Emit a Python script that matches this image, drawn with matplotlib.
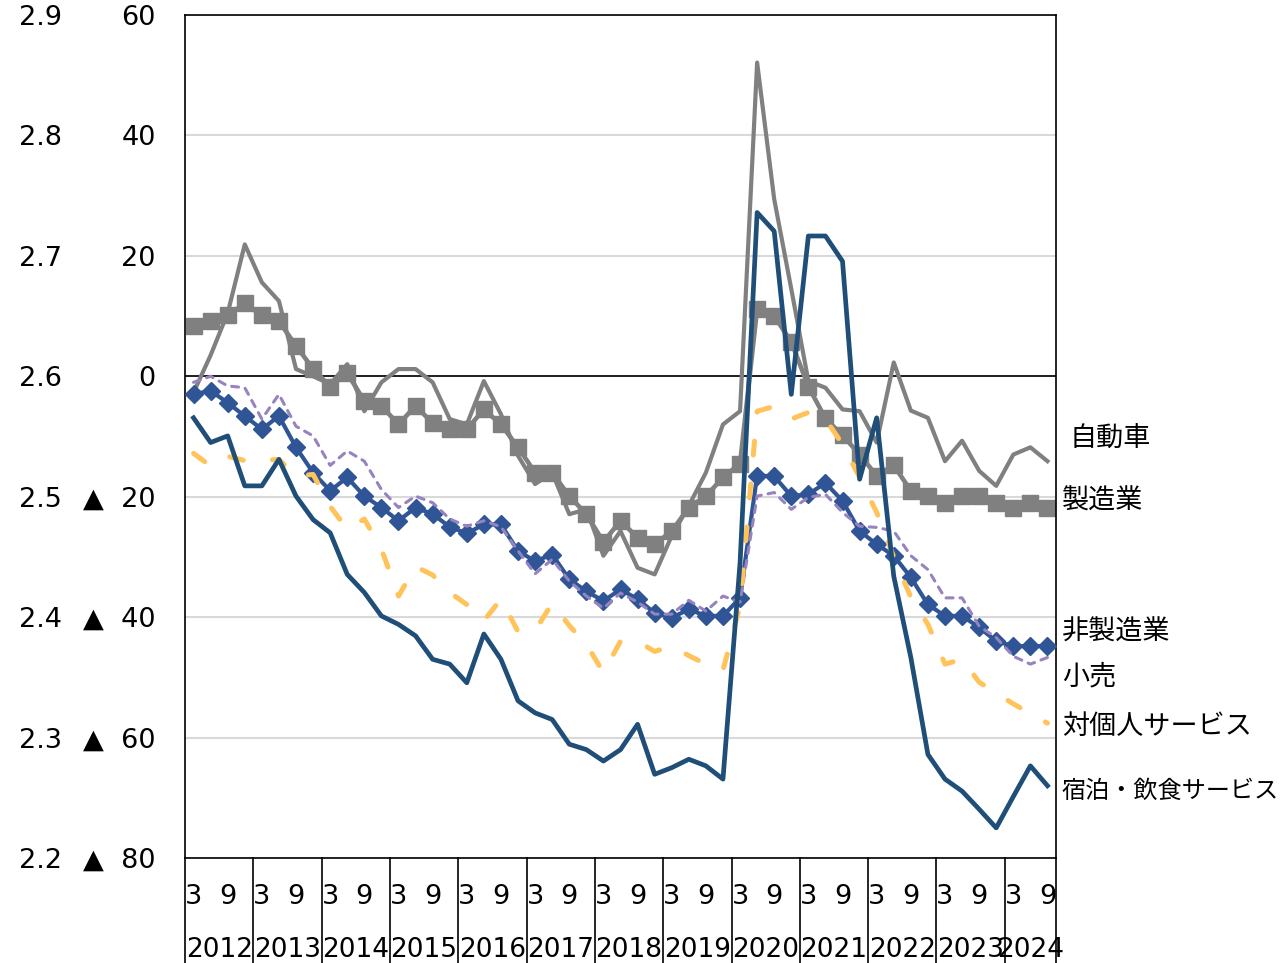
import matplotlib
matplotlib.use('Agg')
import matplotlib.pyplot as plt
import numpy as np
from matplotlib.transforms import blended_transform_factory

plt.rcParams['font.family'] = ['DejaVu Sans', 'Noto Sans CJK JP']
plt.rcParams['lines.scale_dashes'] = False

# ---------------- data ----------------
years = [str(y) for y in range(2012, 2025)]
quarter_labels = (['3', '', '9', ''] * 13)[:51]

manufacturing = [8.3, 9.1, 10.1, 12.1, 10.1, 9.1, 5.1, 1.2, -1.7, 0.5, -4.1, -4.9, -8.0,
                 -4.9, -7.8, -8.8, -8.8, -5.5, -8.0, -11.8, -16.0, -16.0, -19.9, -22.9,
                 -27.5, -24.0, -26.8, -27.9, -25.7, -21.8, -19.9, -16.8, -14.5, 11.2, 10.0,
                 5.7, -1.7, -7.0, -9.8, -13.0, -16.5, -14.8, -19.0, -19.9, -21.0, -19.9,
                 -19.9, -21.0, -21.8, -21.0, -21.8]
automobile = [-2.7, 3.5, 10.5, 21.9, 15.6, 12.5, 1.2, 0.0, -1.3, 2.0, -5.8, -1.0, 1.2,
              1.2, -1.0, -7.1, -8.0, -0.8, -6.3, -13.2, -17.9, -16.0, -22.9, -22.1,
              -29.8, -25.7, -31.8, -32.9, -26.5, -21.5, -16.0, -8.0, -5.8, 52.1, 29.4,
              14.5, -0.8, -1.9, -5.5, -5.8, -11.0, 2.3, -5.7, -6.9, -14.1, -10.7,
              -15.7, -18.2, -13.0, -11.8, -14.1]
non_manufacturing = [-3.0, -2.4, -4.4, -6.6, -8.8, -6.6, -11.8, -16.0, -19.0, -16.8, -19.9,
                     -21.8, -24.0, -21.8, -22.9, -25.0, -26.1, -24.6, -24.6, -29.0, -30.7,
                     -29.6, -33.7, -35.7, -37.3, -35.4, -37.0, -39.3, -40.1, -38.7, -39.8,
                     -39.8, -36.8, -16.5, -16.6, -19.9, -19.6, -17.7, -20.7, -25.7, -27.9,
                     -29.8, -33.4, -37.9, -39.8, -39.8, -41.7, -44.0, -44.8, -44.8, -44.8]
retail = [-1.0, 0.0, -1.6, -1.9, -7.1, -3.0, -8.3, -9.9, -14.8, -12.4, -14.1, -18.8, -21.8,
          -19.9, -21.0, -23.7, -24.9, -24.0, -25.0, -29.0, -32.8, -30.4, -34.0, -36.5,
          -38.5, -36.0, -37.5, -39.5, -39.5, -37.2, -39.0, -36.5, -37.5, -19.9, -19.3,
          -22.1, -20.1, -19.6, -22.6, -24.9, -25.1, -25.7, -29.8, -32.1, -36.8, -36.8,
          -41.5, -43.4, -46.5, -47.8, -46.7]
personal_services = [-12.8, -14.9, -13.3, -14.0, -14.0, -13.8, -16.6, -16.3, -21.6, -25.4,
                     -23.7, -28.7, -36.5, -31.6, -33.0, -35.9, -37.9, -40.6, -37.0, -42.4,
                     -42.2, -37.7, -41.4, -44.5, -49.2, -44.0, -44.0, -45.7, -44.8, -46.4,
                     -47.8, -48.8, -38.1, -5.8, -5.0, -7.1, -6.0, -7.1, -11.3, -16.8, -22.6,
                     -30.0, -36.7, -41.2, -47.8, -47.0, -50.8, -52.6, -54.4, -56.0, -57.6]
lodging_food = [-6.9, -11.0, -9.9, -18.2, -18.2, -13.8, -19.9, -23.8, -26.0, -32.9, -35.9,
                -39.8, -41.2, -43.1, -47.0, -47.8, -50.9, -42.8, -47.0, -53.9, -55.9, -57.0,
                -61.1, -62.0, -63.9, -62.0, -57.8, -66.1, -65.0, -63.6, -64.7, -66.9, -31.0,
                27.2, 24.1, -3.0, 23.3, 23.3, 19.1, -17.1, -6.9, -33.2, -46.7, -62.8, -66.9,
                -68.9, -71.9, -75.0, -69.8, -64.7, -68.0]

series_names = ['自動車', '製造業', '非製造業', '小売', '対個人サービス', '宿泊・飲食サービス']
label_y = [-10.6, -20.8, -42.5, -50.0, -58.3, -68.9]

y_ticks = [60, 40, 20, 0, -20, -40, -60, -80]
y_tick_labels = ['60', '40', '20', '0', '▲  20', '▲  40', '▲  60', '▲  80']
y2_ticks = [2.9, 2.8, 2.7, 2.6, 2.5, 2.4, 2.3, 2.2]
y2_tick_labels = ['2.9', '2.8', '2.7', '2.6', '2.5', '2.4', '2.3', '2.2']

# ---------------- figure ----------------
fig = plt.figure(figsize=(12.8, 9.63), dpi=100)
W, H = 1280, 963
ax = fig.add_axes([185 / W, 1 - 858 / H, (1056 - 185) / W, (858 - 15) / H])
n = len(manufacturing)
x = np.arange(n)

ax.set_xlim(-0.5, n - 0.5)
ax.set_ylim(-80, 60)

ax.set_axisbelow(True)
ax.set_yticks(y_ticks)
ax.set_yticklabels(y_tick_labels)
ax.grid(axis='y', color='#D9D9D9', lw=1.5)
ax.axhline(0, color='black', lw=1.2, zorder=1.5)

gray = '#808080'
ax.plot(x, manufacturing, color=gray, lw=3.3, marker='s', markersize=11.5,
        zorder=2)
ax.plot(x, automobile, color=gray, lw=3.0, zorder=2.5)
ax.plot(x, non_manufacturing, color='#2F5597', lw=3.0, marker='D', markersize=9.5,
        zorder=3)
ax.plot(x, retail, color='#9683BF', lw=2.2, dashes=(5, 5), dash_capstyle='round',
        zorder=4)
ax.plot(x, personal_services, color='#FFC35A', lw=3.6, dashes=(10, 21),
        dash_capstyle='round', zorder=5)
ax.plot(x, lodging_food, color='#1F4E79', lw=3.4, zorder=6)

# right-side series labels
for i, (name, yy) in enumerate(zip(series_names, label_y)):
    xx = 51.32 if i == 0 else 50.85
    fs = 17.4 if i == len(series_names) - 1 else 19.5
    ax.text(xx, yy, name, fontsize=fs, va='center', ha='left', clip_on=False)

# axes styling
for s in ax.spines.values():
    s.set_color('black')
    s.set_linewidth(1.2)
ax.tick_params(axis='y', length=0, pad=21, labelsize=19.5)

# quarter tick labels
ax.set_xticks(x)
ax.set_xticklabels(quarter_labels)
ax.tick_params(axis='x', length=0, pad=19, labelsize=19.5)

# year labels
year_centers = [4 * k + 1.5 for k in range(12)] + [49]
secx = ax.secondary_xaxis('bottom')
secx.set_xticks(year_centers)
secx.set_xticklabels(years)
secx.tick_params(length=0, pad=57, labelsize=19)
secx.spines['bottom'].set_visible(False)

# group separators below axis
trans = blended_transform_factory(ax.transData, ax.transAxes)
sep_x = [-0.5] + [4 * k - 0.5 for k in range(1, 13)] + [n - 0.5]
for sx in sep_x:
    ax.plot([sx, sx], [0, -0.13], color='black', lw=1.2, transform=trans,
            clip_on=False)

# second y-axis label column (2.2 - 2.9)
secy = ax.secondary_yaxis(-0.1412, functions=(lambda v: 2.6 + v / 200.0,
                                              lambda u: (u - 2.6) * 200.0))
secy.set_yticks(y2_ticks)
secy.set_yticklabels(y2_tick_labels)
secy.tick_params(length=0, pad=0, labelsize=19.5)
secy.spines['left'].set_visible(False)

fig.savefig('out.png', dpi=100)
